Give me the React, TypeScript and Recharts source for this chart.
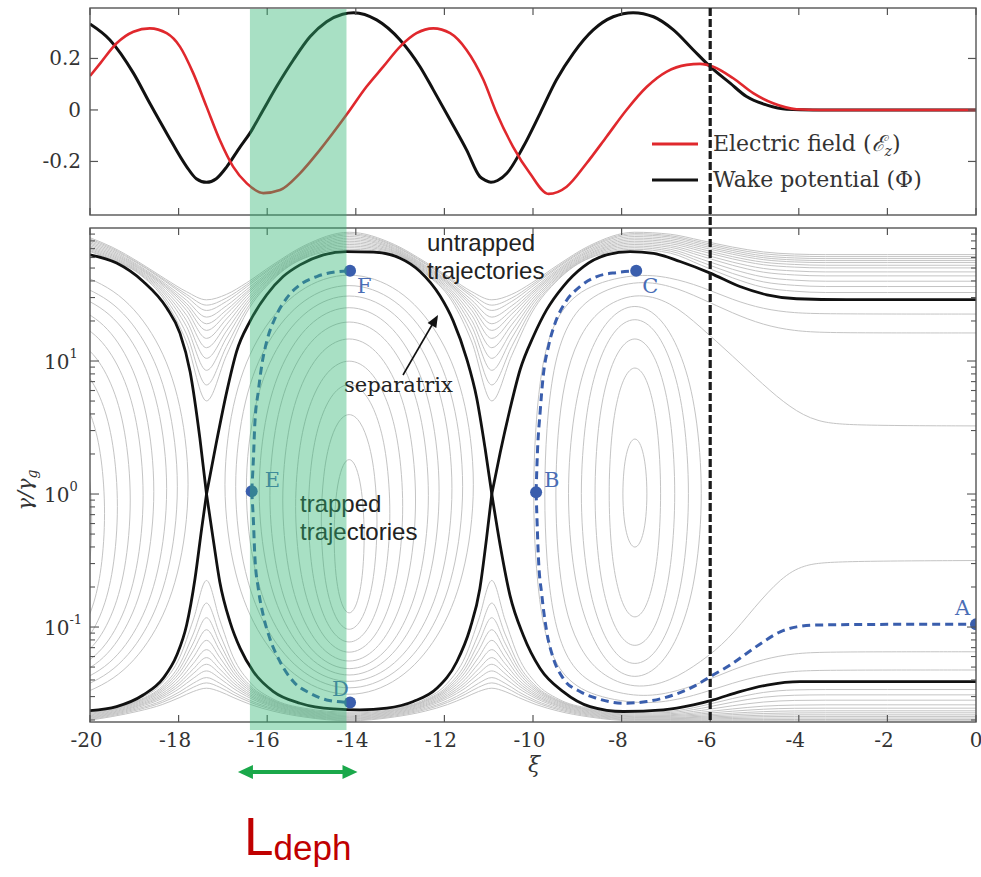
import React from 'react';
import { LineChart, ComposedChart, Line, Scatter, XAxis, YAxis } from 'recharts';

const W = 981;
const H = 877;
const PLOT_L = 90;
const PLOT_R = 976;
const TOP_Y0 = 8;
const TOP_Y1 = 215;
const BOT_Y0 = 228;
const BOT_Y1 = 722;

const SERIF = '"DejaVu Serif", "Liberation Serif", serif';
const SANS = '"Liberation Sans", Arial, sans-serif';
const RED = '#e0282d';
const BLUE = '#3a5ead';
const GRAY = '#c4c4c4';
const INK = '#333';

// ---------- top panel ----------
const xiTicks = [-20, -18, -16, -14, -12, -10, -8, -6, -4, -2, 0];
const fieldTicks = [-0.2, 0, 0.2];

const wakeXi = [-20, -19.55, -19.02, -18.65, -18.27, -17.82, -17.6, -17.37, -17.15, -16.91, -16.61, -16.39, -16.09, -15.79, -15.41, -15.03, -14.66, -14.3, -14.05, -13.53, -13.0, -12.55, -12.25, -11.87, -11.5, -11.2, -11.08, -10.95, -10.8, -10.59, -10.22, -9.84, -9.47, -9.09, -8.64, -8.19, -7.74, -7.28, -6.83, -6.38, -6.0, -5.55, -5.18, -4.72, -4.27, -3.68, -2, 0];
const wakePhi = [0.334, 0.272, 0.143, 0.026, -0.09, -0.22, -0.267, -0.281, -0.267, -0.22, -0.143, -0.09, 0.0, 0.09, 0.194, 0.285, 0.343, 0.372, 0.378, 0.35, 0.272, 0.168, 0.078, -0.039, -0.155, -0.259, -0.273, -0.281, -0.274, -0.246, -0.143, -0.013, 0.117, 0.22, 0.311, 0.362, 0.378, 0.362, 0.311, 0.233, 0.168, 0.104, 0.052, 0.019, 0.003, 0, 0, 0];

const fieldXi = [-20, -19.77, -19.4, -19.02, -18.65, -18.27, -17.97, -17.67, -17.37, -17.07, -16.77, -16.46, -16.09, -15.71, -15.26, -14.81, -14.21, -13.76, -13.38, -13.0, -12.63, -12.25, -11.87, -11.5, -11.12, -10.82, -10.45, -10.07, -9.65, -9.24, -8.79, -8.34, -7.89, -7.43, -6.98, -6.53, -6.23, -5.93, -5.48, -5.03, -4.58, -4.05, -3.5, 0];
const fieldEz = [0.132, 0.181, 0.259, 0.304, 0.317, 0.298, 0.246, 0.143, 0.013, -0.117, -0.22, -0.285, -0.323, -0.311, -0.246, -0.155, -0.019, 0.09, 0.168, 0.246, 0.298, 0.317, 0.298, 0.233, 0.117, -0.013, -0.143, -0.246, -0.326, -0.298, -0.207, -0.104, 0.0, 0.09, 0.149, 0.175, 0.179, 0.168, 0.123, 0.065, 0.026, 0.003, 0, 0];

// ---------- bottom panel: all values are log10(gamma / gamma_g) ----------
const gammaDecades = [-1, 0, 1];
const gammaMinor = [-2, -1, 0, 1]
  .flatMap((k) => [2, 3, 4, 5, 6, 7, 8, 9].map((m) => k + Math.log10(m)))
  .filter((v) => v > -1.714 && v < 2);

// untrapped orbits above the separatrix
const upperFlowXi = [-20, -19.5, -18.9, -18.3, -17.82, -17.37, -16.92, -16.47, -15.87, -15.17, -14.15, -13.13, -12.43, -11.83, -11.38, -10.93, -10.48, -10.03, -9.43, -8.73, -7.71, -6.9, -6.2, -5.5, -4.8, -4.1, -3.4, -2, 0];
const upperFlowLog = [
  [1.823, 1.760, 1.657, 1.451, 1.142, 0.70, 1.042, 1.361, 1.612, 1.772, 1.84, 1.802, 1.657, 1.451, 1.142, 0.70, 1.042, 1.361, 1.612, 1.772, 1.84, 1.811, 1.720, 1.626, 1.554, 1.525, 1.515, 1.515, 1.515],
  [1.830, 1.765, 1.663, 1.473, 1.202, 0.82, 1.109, 1.388, 1.620, 1.777, 1.852, 1.805, 1.663, 1.473, 1.202, 0.82, 1.109, 1.388, 1.620, 1.777, 1.852, 1.826, 1.744, 1.659, 1.595, 1.569, 1.56, 1.56, 1.56],
  [1.839, 1.773, 1.670, 1.495, 1.258, 0.93, 1.173, 1.416, 1.630, 1.785, 1.864, 1.812, 1.670, 1.495, 1.258, 0.93, 1.173, 1.416, 1.630, 1.785, 1.864, 1.840, 1.766, 1.690, 1.632, 1.608, 1.60, 1.60, 1.60],
  [1.848, 1.781, 1.678, 1.513, 1.303, 1.02, 1.225, 1.439, 1.640, 1.792, 1.876, 1.817, 1.678, 1.513, 1.303, 1.02, 1.225, 1.439, 1.640, 1.792, 1.876, 1.855, 1.789, 1.720, 1.668, 1.647, 1.64, 1.64, 1.64],
  [1.857, 1.790, 1.686, 1.530, 1.344, 1.10, 1.273, 1.462, 1.650, 1.801, 1.888, 1.824, 1.686, 1.530, 1.344, 1.10, 1.273, 1.462, 1.650, 1.801, 1.888, 1.868, 1.807, 1.744, 1.696, 1.677, 1.67, 1.67, 1.67],
  [1.867, 1.799, 1.695, 1.547, 1.380, 1.17, 1.316, 1.484, 1.661, 1.809, 1.90, 1.830, 1.695, 1.547, 1.380, 1.17, 1.316, 1.484, 1.661, 1.809, 1.90, 1.882, 1.826, 1.768, 1.724, 1.706, 1.70, 1.70, 1.70],
  [1.878, 1.808, 1.702, 1.560, 1.409, 1.23, 1.353, 1.503, 1.671, 1.819, 1.912, 1.838, 1.702, 1.560, 1.409, 1.23, 1.353, 1.503, 1.671, 1.819, 1.912, 1.895, 1.841, 1.785, 1.743, 1.726, 1.72, 1.72, 1.72],
  [1.888, 1.818, 1.710, 1.570, 1.432, 1.28, 1.383, 1.518, 1.681, 1.828, 1.924, 1.845, 1.710, 1.570, 1.432, 1.28, 1.383, 1.518, 1.681, 1.828, 1.924, 1.907, 1.856, 1.803, 1.762, 1.745, 1.74, 1.74, 1.74],
  [1.898, 1.828, 1.718, 1.582, 1.457, 1.33, 1.415, 1.536, 1.691, 1.838, 1.936, 1.853, 1.718, 1.582, 1.457, 1.33, 1.415, 1.536, 1.691, 1.838, 1.936, 1.920, 1.869, 1.817, 1.777, 1.760, 1.755, 1.755, 1.755],
  [1.909, 1.838, 1.729, 1.597, 1.483, 1.38, 1.448, 1.556, 1.704, 1.849, 1.948, 1.862, 1.729, 1.597, 1.483, 1.38, 1.448, 1.556, 1.704, 1.849, 1.948, 1.932, 1.882, 1.831, 1.791, 1.775, 1.77, 1.77, 1.77],
  [1.918, 1.847, 1.735, 1.606, 1.501, 1.42, 1.474, 1.571, 1.713, 1.857, 1.958, 1.868, 1.735, 1.606, 1.501, 1.42, 1.474, 1.571, 1.713, 1.857, 1.958, 1.942, 1.894, 1.844, 1.806, 1.790, 1.785, 1.785, 1.785],
  [1.927, 1.856, 1.744, 1.617, 1.521, 1.46, 1.501, 1.587, 1.724, 1.866, 1.968, 1.876, 1.744, 1.617, 1.521, 1.46, 1.501, 1.587, 1.724, 1.866, 1.968, 1.953, 1.906, 1.857, 1.820, 1.804, 1.80, 1.80, 1.80],
];

// untrapped orbits below the separatrix
const lowerFlowXi = [-20, -19.5, -18.9, -18.37, -17.97, -17.67, -17.37, -17.07, -16.77, -16.37, -15.87, -15.17, -14.15, -13.13, -12.43, -11.93, -11.53, -11.23, -10.93, -10.63, -10.33, -9.93, -9.43, -8.73, -7.71, -6.9, -6.2, -5.5, -4.8, -4.1, -3.4, -2, 0];
const lowerFlowLog = [
  [-1.638, -1.615, -1.541, -1.422, -1.224, -0.947, -0.65, -0.947, -1.224, -1.422, -1.541, -1.610, -1.64, -1.610, -1.541, -1.422, -1.224, -0.947, -0.65, -0.947, -1.224, -1.422, -1.541, -1.610, -1.64, -1.633, -1.594, -1.538, -1.492, -1.473, -1.47, -1.47, -1.47],
  [-1.643, -1.612, -1.550, -1.445, -1.278, -1.053, -0.82, -1.053, -1.278, -1.445, -1.550, -1.617, -1.648, -1.617, -1.550, -1.445, -1.278, -1.053, -0.82, -1.053, -1.278, -1.445, -1.550, -1.617, -1.648, -1.642, -1.611, -1.565, -1.528, -1.513, -1.51, -1.51, -1.51],
  [-1.650, -1.617, -1.556, -1.459, -1.311, -1.121, -0.93, -1.121, -1.311, -1.459, -1.556, -1.622, -1.655, -1.622, -1.556, -1.459, -1.311, -1.121, -0.93, -1.121, -1.311, -1.459, -1.556, -1.622, -1.655, -1.651, -1.627, -1.592, -1.564, -1.552, -1.55, -1.55, -1.55],
  [-1.657, -1.623, -1.562, -1.472, -1.340, -1.177, -1.02, -1.177, -1.340, -1.472, -1.562, -1.627, -1.662, -1.627, -1.562, -1.472, -1.340, -1.177, -1.02, -1.177, -1.340, -1.472, -1.562, -1.627, -1.662, -1.659, -1.641, -1.616, -1.595, -1.587, -1.585, -1.585, -1.585],
  [-1.663, -1.628, -1.570, -1.485, -1.368, -1.229, -1.10, -1.229, -1.368, -1.485, -1.570, -1.632, -1.668, -1.632, -1.570, -1.485, -1.368, -1.229, -1.10, -1.229, -1.368, -1.485, -1.570, -1.632, -1.668, -1.666, -1.652, -1.633, -1.618, -1.611, -1.61, -1.61, -1.61],
  [-1.669, -1.635, -1.578, -1.499, -1.394, -1.275, -1.17, -1.275, -1.394, -1.499, -1.578, -1.638, -1.674, -1.638, -1.578, -1.499, -1.394, -1.275, -1.17, -1.275, -1.394, -1.499, -1.578, -1.638, -1.674, -1.672, -1.662, -1.648, -1.636, -1.631, -1.63, -1.63, -1.63],
  [-1.675, -1.641, -1.586, -1.512, -1.417, -1.316, -1.23, -1.316, -1.417, -1.512, -1.586, -1.644, -1.68, -1.644, -1.586, -1.512, -1.417, -1.316, -1.23, -1.316, -1.417, -1.512, -1.586, -1.644, -1.68, -1.679, -1.671, -1.659, -1.650, -1.646, -1.645, -1.645, -1.645],
  [-1.680, -1.647, -1.593, -1.524, -1.438, -1.350, -1.28, -1.350, -1.438, -1.524, -1.593, -1.650, -1.685, -1.650, -1.593, -1.524, -1.438, -1.350, -1.28, -1.350, -1.438, -1.524, -1.593, -1.650, -1.685, -1.684, -1.678, -1.670, -1.663, -1.660, -1.66, -1.66, -1.66],
  [-1.685, -1.653, -1.602, -1.537, -1.460, -1.386, -1.33, -1.386, -1.460, -1.537, -1.602, -1.656, -1.69, -1.656, -1.602, -1.537, -1.460, -1.386, -1.33, -1.386, -1.460, -1.537, -1.602, -1.656, -1.69, -1.689, -1.685, -1.679, -1.674, -1.672, -1.672, -1.672, -1.672],
  [-1.690, -1.659, -1.612, -1.554, -1.486, -1.423, -1.38, -1.423, -1.486, -1.554, -1.612, -1.662, -1.695, -1.662, -1.612, -1.554, -1.486, -1.423, -1.38, -1.423, -1.486, -1.554, -1.612, -1.662, -1.695, -1.695, -1.692, -1.688, -1.685, -1.684, -1.684, -1.684, -1.684],
  [-1.695, -1.666, -1.621, -1.567, -1.506, -1.453, -1.42, -1.453, -1.506, -1.567, -1.621, -1.669, -1.70, -1.669, -1.621, -1.567, -1.506, -1.453, -1.42, -1.453, -1.506, -1.567, -1.621, -1.669, -1.70, -1.70, -1.699, -1.697, -1.696, -1.695, -1.695, -1.695, -1.695],
  [-1.700, -1.673, -1.632, -1.583, -1.529, -1.485, -1.46, -1.485, -1.529, -1.583, -1.632, -1.676, -1.705, -1.676, -1.632, -1.583, -1.529, -1.485, -1.46, -1.485, -1.529, -1.583, -1.632, -1.676, -1.705, -1.705, -1.705, -1.705, -1.705, -1.705, -1.705, -1.705, -1.705],
];

// trapped orbits of the bucket centred near xi = -14.15 (upper and lower arcs)
const midLoopXi = [
  [-14.50, -14.465, -14.395, -14.29, -14.15, -14.01, -13.905, -13.835, -13.80],
  [-14.80, -14.735, -14.605, -14.41, -14.15, -13.89, -13.695, -13.565, -13.50],
  [-15.10, -15.005, -14.815, -14.53, -14.15, -13.77, -13.485, -13.295, -13.20],
  [-15.40, -15.275, -15.025, -14.65, -14.15, -13.65, -13.275, -13.025, -12.90],
  [-15.70, -15.545, -15.235, -14.77, -14.15, -13.53, -13.065, -12.755, -12.60],
  [-16.00, -15.815, -15.445, -14.89, -14.15, -13.41, -12.855, -12.485, -12.30],
  [-16.25, -16.04, -15.62, -14.99, -14.15, -13.31, -12.68, -12.26, -12.05],
  [-16.55, -16.31, -15.83, -15.11, -14.15, -13.19, -12.47, -11.99, -11.75],
  [-16.80, -16.535, -16.005, -15.21, -14.15, -13.09, -12.295, -11.765, -11.50],
  [-17.05, -16.76, -16.18, -15.31, -14.15, -12.99, -12.12, -11.54, -11.25],
];
const midLoopTop = [
  [-0.32, -0.061, 0.105, 0.226, 0.275, 0.226, 0.105, -0.061, -0.32],
  [-0.21, 0.152, 0.383, 0.551, 0.62, 0.551, 0.383, 0.152, -0.21],
  [-0.145, 0.289, 0.565, 0.767, 0.85, 0.767, 0.565, 0.289, -0.145],
  [-0.095, 0.396, 0.708, 0.937, 1.03, 0.937, 0.708, 0.396, -0.095],
  [-0.045, 0.498, 0.844, 1.097, 1.20, 1.097, 0.844, 0.498, -0.045],
  [-0.01, 0.574, 0.947, 1.219, 1.33, 1.219, 0.947, 0.574, -0.01],
  [0.02, 0.639, 1.034, 1.322, 1.44, 1.322, 1.034, 0.639, 0.02],
  [0.04, 0.69, 1.104, 1.406, 1.53, 1.406, 1.104, 0.69, 0.04],
  [0.055, 0.733, 1.165, 1.481, 1.61, 1.481, 1.165, 0.733, 0.055],
  [0.07, 0.776, 1.227, 1.556, 1.69, 1.556, 1.227, 0.776, 0.07],
];
const midLoopBottom = [
  [-0.32, -0.577, -0.741, -0.861, -0.91, -0.861, -0.741, -0.577, -0.32],
  [-0.21, -0.572, -0.803, -0.971, -1.04, -0.971, -0.803, -0.572, -0.21],
  [-0.145, -0.579, -0.855, -1.057, -1.14, -1.057, -0.855, -0.579, -0.145],
  [-0.095, -0.586, -0.898, -1.127, -1.22, -1.127, -0.898, -0.586, -0.095],
  [-0.045, -0.588, -0.934, -1.187, -1.29, -1.187, -0.934, -0.588, -0.045],
  [-0.01, -0.594, -0.967, -1.239, -1.35, -1.239, -0.967, -0.594, -0.01],
  [0.02, -0.599, -0.994, -1.282, -1.40, -1.282, -0.994, -0.599, 0.02],
  [0.04, -0.61, -1.024, -1.326, -1.45, -1.326, -1.024, -0.61, 0.04],
  [0.055, -0.623, -1.055, -1.371, -1.50, -1.371, -1.055, -0.623, 0.055],
  [0.07, -0.636, -1.087, -1.416, -1.55, -1.416, -1.087, -0.636, 0.07],
];

// right halves of the trapped orbits of the bucket cut by the left edge
const leftLoopXi = [
  [-20.59, -20.33, -20.135, -20.005, -19.94],
  [-20.59, -20.21, -19.925, -19.735, -19.64],
  [-20.59, -20.09, -19.715, -19.465, -19.34],
  [-20.59, -19.97, -19.505, -19.195, -19.04],
  [-20.59, -19.85, -19.295, -18.925, -18.74],
  [-20.59, -19.75, -19.12, -18.70, -18.49],
  [-20.59, -19.63, -18.91, -18.43, -18.19],
  [-20.59, -19.53, -18.735, -18.205, -17.94],
  [-20.59, -19.43, -18.56, -17.98, -17.69],
];
const leftLoopTop = [
  [0.62, 0.551, 0.383, 0.152, -0.21],
  [0.85, 0.767, 0.565, 0.289, -0.145],
  [1.03, 0.937, 0.708, 0.396, -0.095],
  [1.20, 1.097, 0.844, 0.498, -0.045],
  [1.33, 1.219, 0.947, 0.574, -0.01],
  [1.44, 1.322, 1.034, 0.639, 0.02],
  [1.53, 1.406, 1.104, 0.69, 0.04],
  [1.61, 1.481, 1.165, 0.733, 0.055],
  [1.69, 1.556, 1.227, 0.776, 0.07],
];
const leftLoopBottom = [
  [-1.04, -0.971, -0.803, -0.572, -0.21],
  [-1.14, -1.057, -0.855, -0.579, -0.145],
  [-1.22, -1.127, -0.898, -0.586, -0.095],
  [-1.29, -1.187, -0.934, -0.588, -0.045],
  [-1.35, -1.239, -0.967, -0.594, -0.01],
  [-1.40, -1.282, -0.994, -0.599, 0.02],
  [-1.45, -1.326, -1.024, -0.61, 0.04],
  [-1.50, -1.371, -1.055, -0.623, 0.055],
  [-1.55, -1.416, -1.087, -0.636, 0.07],
];

// closed orbits of the last bucket (centre near xi = -7.7)
const lastLoopXi = [
  [-7.98, -7.952, -7.896, -7.812, -7.70, -7.588, -7.504, -7.448, -7.42],
  [-8.30, -8.24, -8.12, -7.94, -7.70, -7.46, -7.28, -7.16, -7.10],
  [-8.63, -8.537, -8.351, -8.072, -7.70, -7.328, -7.049, -6.863, -6.77],
  [-8.95, -8.825, -8.575, -8.20, -7.70, -7.20, -6.825, -6.575, -6.45],
  [-9.25, -9.095, -8.785, -8.32, -7.70, -7.08, -6.615, -6.305, -6.15],
];
const lastLoopTop = [
  [0, 0.185, 0.303, 0.390, 0.425, 0.390, 0.303, 0.185, 0],
  [0, 0.425, 0.695, 0.893, 0.974, 0.893, 0.695, 0.425, 0],
  [0, 0.523, 0.856, 1.099, 1.199, 1.099, 0.856, 0.523, 0],
  [0, 0.588, 0.962, 1.236, 1.348, 1.236, 0.962, 0.588, 0],
  [0, 0.632, 1.035, 1.330, 1.45, 1.330, 1.035, 0.632, 0],
];
const lastLoopBottom = [
  [0, -0.179, -0.293, -0.376, -0.41, -0.376, -0.293, -0.179, 0],
  [0, -0.414, -0.678, -0.871, -0.95, -0.871, -0.678, -0.414, 0],
  [0, -0.510, -0.835, -1.073, -1.17, -1.073, -0.835, -0.510, 0],
  [0, -0.571, -0.935, -1.201, -1.31, -1.201, -0.935, -0.571, 0],
  [0, -0.615, -1.007, -1.293, -1.41, -1.293, -1.007, -0.615, 0],
];

// orbits of the last bucket that leave through the right edge
const openOrbitsUpper = [
  [[-9.5, 0], [-9.45, 0.45], [-9.3, 0.85], [-9.0, 1.17], [-8.5, 1.40], [-7.7, 1.52], [-6.9, 1.45], [-6.2, 1.25], [-5.5, 1.04], [-4.8, 0.82], [-4.2, 0.65], [-3.6, 0.54], [-2.8, 0.515], [0, 0.512]],
  [[-9.75, 0], [-9.7, 0.5], [-9.55, 0.95], [-9.25, 1.28], [-8.7, 1.50], [-7.7, 1.61], [-6.9, 1.57], [-6.2, 1.47], [-5.5, 1.36], [-4.8, 1.27], [-4.1, 1.225], [-3.4, 1.213], [-2, 1.211], [0, 1.211]],
  [[-10.0, 0], [-9.95, 0.5], [-9.8, 1.0], [-9.5, 1.33], [-8.9, 1.56], [-7.7, 1.66], [-6.9, 1.63], [-6.2, 1.56], [-5.5, 1.46], [-4.8, 1.39], [-4.1, 1.36], [-3.4, 1.355], [-2, 1.353], [0, 1.353]],
];
const openOrbitsLower = [
  [[-9.5, 0], [-9.45, -0.45], [-9.3, -0.84], [-9.0, -1.14], [-8.5, -1.36], [-7.7, -1.47], [-6.9, -1.41], [-6.2, -1.26], [-5.6, -1.1], [-5.0, -0.85], [-4.4, -0.63], [-3.9, -0.53], [-3.2, -0.505], [0, -0.50]],
  [[-9.75, 0], [-9.7, -0.5], [-9.55, -0.93], [-9.25, -1.25], [-8.7, -1.44], [-7.7, -1.53], [-6.9, -1.50], [-6.2, -1.42], [-5.5, -1.32], [-4.8, -1.24], [-4.1, -1.197], [-3.4, -1.188], [-2, -1.186], [0, -1.186]],
  [[-10.0, 0], [-9.95, -0.5], [-9.8, -0.98], [-9.5, -1.3], [-8.9, -1.5], [-7.7, -1.58], [-6.9, -1.56], [-6.2, -1.50], [-5.5, -1.42], [-4.8, -1.36], [-4.1, -1.33], [-3.4, -1.325], [-2, -1.323], [0, -1.323]],
];

// separatrix, split at the X-points
const separatrixUpper = [
  [[-20, 1.798], [-19.4, 1.736], [-18.8, 1.598], [-18.27, 1.40], [-17.97, 1.21], [-17.74, 0.92], [-17.52, 0.42], [-17.37, 0]],
  [[-17.37, 0], [-17.14, 0.40], [-16.91, 0.774], [-16.69, 1.073], [-16.39, 1.298], [-16.01, 1.498], [-15.64, 1.635], [-15.26, 1.723], [-14.73, 1.798], [-14.21, 1.822], [-13.6, 1.818], [-13.0, 1.773], [-12.55, 1.673], [-12.1, 1.49], [-11.8, 1.30], [-11.5, 1.02], [-11.27, 0.72], [-11.08, 0.34], [-10.93, 0]],
  [[-10.93, 0], [-10.74, 0.312], [-10.52, 0.637], [-10.29, 0.936], [-9.99, 1.186], [-9.69, 1.386], [-9.32, 1.56], [-8.86, 1.71], [-8.34, 1.798], [-7.81, 1.822], [-7.28, 1.81], [-6.68, 1.748], [-6.0, 1.661], [-5.33, 1.56], [-4.72, 1.498], [-4.05, 1.468], [-2.92, 1.461], [0, 1.461]],
];
const separatrixLower = [
  [[-20, -1.628], [-19.4, -1.598], [-18.8, -1.511], [-18.35, -1.386], [-18.04, -1.211], [-17.82, -0.987], [-17.63, -0.637], [-17.48, -0.262], [-17.37, 0]],
  [[-17.37, 0], [-17.22, -0.337], [-17.07, -0.661], [-16.84, -0.961], [-16.61, -1.161], [-16.31, -1.336], [-15.86, -1.485], [-15.26, -1.573], [-14.51, -1.616], [-13.91, -1.623], [-13.3, -1.61], [-12.7, -1.56], [-12.17, -1.461], [-11.72, -1.261], [-11.42, -1.011], [-11.2, -0.712], [-11.05, -0.337], [-10.93, 0]],
  [[-10.93, 0], [-10.74, -0.387], [-10.52, -0.762], [-10.22, -1.061], [-9.84, -1.311], [-9.32, -1.485], [-8.71, -1.598], [-7.96, -1.635], [-7.06, -1.623], [-6.38, -1.586], [-5.93, -1.548], [-5.33, -1.485], [-4.72, -1.436], [-3.97, -1.41], [0, -1.41]],
];

// electron trajectories (blue dashed)
const trajEtoF = [[-16.35, 0.02], [-16.31, 0.275], [-16.28, 0.524], [-16.2, 0.774], [-16.12, 0.974], [-16.01, 1.148], [-15.82, 1.324], [-15.56, 1.473], [-15.26, 1.573], [-14.88, 1.635], [-14.51, 1.668], [-14.13, 1.678]];
const trajEtoD = [[-16.35, 0.02], [-16.31, -0.212], [-16.28, -0.462], [-16.2, -0.712], [-16.09, -0.911], [-15.94, -1.086], [-15.71, -1.261], [-15.41, -1.41], [-15.03, -1.498], [-14.66, -1.548], [-14.13, -1.568]];
const trajBtoA = [[-9.93, 0.013], [-9.915, -0.137], [-9.88, -0.462], [-9.80, -0.762], [-9.69, -1.036], [-9.54, -1.236], [-9.32, -1.386], [-8.94, -1.485], [-8.56, -1.536], [-7.96, -1.573], [-7.43, -1.56], [-6.83, -1.511], [-6.38, -1.448], [-6.0, -1.373], [-5.55, -1.286], [-5.18, -1.199], [-4.80, -1.111], [-4.42, -1.036], [-4.05, -0.999], [-3.6, -0.985], [-2, -0.98], [0, -0.98]];
const trajBtoC = [[-9.93, 0.013], [-9.90, 0.312], [-9.84, 0.612], [-9.77, 0.886], [-9.65, 1.111], [-9.50, 1.286], [-9.28, 1.436], [-8.94, 1.56], [-8.56, 1.635], [-8.11, 1.665], [-7.67, 1.678]];

const pointNames = ['A', 'B', 'C', 'D', 'E', 'F'];
const pointXi = [0, -9.93, -7.67, -14.13, -16.35, -14.13];
const pointLog = [-0.98, 0.013, 1.678, -1.568, 0.02, 1.678];

const dephasingXi = [-16.39, -14.21];
const driverEndXi = -6;

// label offsets (px) for the lettered points
const pointLabelOffset: Record<string, [number, number]> = {
  A: [-21, -9], B: [8, -5], C: [6, 22], D: [-18, -7], E: [13, -4], F: [7, 22],
};

type Pt = { x: number; y: number };
const zip = (xs: number[], ys: number[]): Pt[] => xs.map((x, i) => ({ x, y: ys[i] }));
const fromPairs = (p: number[][]): Pt[] => p.map(([x, y]) => ({ x, y }));
const xPx = (xi: number) => PLOT_L + ((xi + 20) / 20) * (PLOT_R - PLOT_L);

// join the two arcs of an orbit into one path
const closedLoop = (xs: number[], top: number[], bottom: number[]) => [
  ...zip(xs, top),
  ...zip(xs, bottom).slice(1, -1).reverse(),
];
const halfLoop = (xs: number[], top: number[], bottom: number[]) => [
  ...zip(xs, top),
  ...zip(xs, bottom).slice(0, -1).reverse(),
];
const openOrbit = (upper: number[][], lower: number[][]) => [
  ...fromPairs(upper).reverse(),
  ...fromPairs(lower).slice(1),
];

const grayLine = (key: string, data: Pt[], type: any = 'monotone') => (
  <Line key={key} data={data} dataKey="y" type={type} stroke={GRAY} strokeWidth={1}
    dot={false} activeDot={false} isAnimationActive={false} />
);

const fmtField = (v: number) => (v === 0 ? '0' : v.toFixed(1));

function makeXTick(y0: number, y1: number, withLabel: boolean) {
  return (props: any) => {
    const { x, payload } = props;
    const v = payload.value as number;
    return (
      <g>
        <line x1={x} x2={x} y1={y1} y2={y1 - 7} stroke="#555" strokeWidth={1.2} />
        <line x1={x} x2={x} y1={y0} y2={y0 + 7} stroke="#555" strokeWidth={1.2} />
        {withLabel && (
          <text x={x} y={y1 + 25} dx={v < 0 ? -3.5 : 0} textAnchor="middle" fontFamily={SERIF} fontSize={20} fill={INK}>
            {v}
          </text>
        )}
      </g>
    );
  };
}

const FieldTick = (props: any) => {
  const { y, payload } = props;
  return (
    <g>
      <line x1={PLOT_L} x2={PLOT_L + 8} y1={y} y2={y} stroke="#555" strokeWidth={1.2} />
      <line x1={PLOT_R} x2={PLOT_R - 8} y1={y} y2={y} stroke="#555" strokeWidth={1.2} />
      <text x={81} y={y + 7} textAnchor="end" fontFamily={SERIF} fontSize={20} fill={INK}>
        {fmtField(payload.value)}
      </text>
    </g>
  );
};

const GammaTick = (props: any) => {
  const { y, payload } = props;
  const v = payload.value as number;
  const major = Number.isInteger(v);
  const len = major ? 9 : 5;
  return (
    <g>
      <line x1={PLOT_L} x2={PLOT_L + len} y1={y} y2={y} stroke="#555" strokeWidth={1.1} />
      <line x1={PLOT_R} x2={PLOT_R - len} y1={y} y2={y} stroke="#555" strokeWidth={1.1} />
      {major && (
        <text x={44} y={y + 8} fontFamily={SERIF} fontSize={20} fill={INK}>
          10
          <tspan fontSize={13} dy={-11}>{v}</tspan>
        </text>
      )}
    </g>
  );
};

const PointShape = (props: any) => {
  const { cx, cy, payload } = props;
  const [dx, dy] = pointLabelOffset[payload.name];
  return (
    <g>
      <circle cx={cx} cy={cy} r={6} fill={BLUE} />
      <text x={cx + dx} y={cy + dy} fontFamily={SERIF} fontSize={21} fill="#4a6db5">{payload.name}</text>
    </g>
  );
};

function TopPanel() {
  return (
    <LineChart width={W} height={232} margin={{ top: TOP_Y0, right: W - PLOT_R, bottom: 0, left: 30 }}>
      <XAxis type="number" dataKey="x" domain={[-20, 0]} ticks={xiTicks} interval={0} allowDataOverflow
        axisLine={false} tickLine={false} height={17} tick={makeXTick(TOP_Y0, TOP_Y1, false)} />
      <YAxis type="number" dataKey="y" domain={[-0.408, 0.396]} ticks={fieldTicks} interval={0} allowDataOverflow
        axisLine={false} tickLine={false} width={60} tick={FieldTick} />
      <Line data={zip(wakeXi, wakePhi)} dataKey="y" type="monotone" stroke="#111" strokeWidth={3}
        dot={false} activeDot={false} isAnimationActive={false} />
      <Line data={zip(fieldXi, fieldEz)} dataKey="y" type="monotone" stroke={RED} strokeWidth={2.6}
        dot={false} activeDot={false} isAnimationActive={false} />
    </LineChart>
  );
}

function BottomPanel() {
  const points = pointNames.map((name, i) => ({ name, x: pointXi[i], y: pointLog[i] }));
  return (
    <ComposedChart width={W} height={H} margin={{ top: BOT_Y0, right: W - PLOT_R, bottom: H - BOT_Y1 - 40, left: 30 }}>
      <XAxis type="number" dataKey="x" domain={[-20, 0]} ticks={xiTicks} interval={0} allowDataOverflow
        axisLine={false} tickLine={false} height={40} tick={makeXTick(BOT_Y0, BOT_Y1, true)} />
      <YAxis type="number" dataKey="y" domain={[-1.714, 2]} ticks={[...gammaDecades, ...gammaMinor]} interval={0}
        allowDataOverflow axisLine={false} tickLine={false} width={60} tick={GammaTick} />

      {upperFlowLog.map((ys, i) => grayLine(`u${i}`, zip(upperFlowXi, ys)))}
      {lowerFlowLog.map((ys, i) => grayLine(`l${i}`, zip(lowerFlowXi, ys)))}
      {midLoopXi.map((xs, i) => grayLine(`m${i}`, closedLoop(xs, midLoopTop[i], midLoopBottom[i]), 'basisClosed'))}
      {leftLoopXi.map((xs, i) => grayLine(`h${i}`, halfLoop(xs, leftLoopTop[i], leftLoopBottom[i]), 'basis'))}
      {lastLoopXi.map((xs, i) => grayLine(`k${i}`, closedLoop(xs, lastLoopTop[i], lastLoopBottom[i]), 'basisClosed'))}
      {openOrbitsUpper.map((p, i) => grayLine(`o${i}`, openOrbit(p, openOrbitsLower[i]), 'basis'))}

      {[...separatrixUpper, ...separatrixLower].map((p, i) => (
        <Line key={`s${i}`} data={fromPairs(p)} dataKey="y" type="monotone" stroke="#111" strokeWidth={2.8}
          dot={false} activeDot={false} isAnimationActive={false} />
      ))}

      {[trajEtoF, trajEtoD, trajBtoA, trajBtoC].map((p, i) => (
        <Line key={`t${i}`} data={fromPairs(p)} dataKey="y" type="monotone" stroke={BLUE} strokeWidth={3}
          strokeDasharray="8 5" dot={false} activeDot={false} isAnimationActive={false} />
      ))}

      <Scatter data={points} dataKey="y" shape={PointShape} isAnimationActive={false} />
    </ComposedChart>
  );
}

function Overlay() {
  const bx0 = xPx(dephasingXi[0]);
  const bx1 = xPx(dephasingXi[1]);
  const xd = xPx(driverEndXi);
  const ay = 772;
  const al = bx0 - 12;
  const ar = bx1 + 11;
  return (
    <svg width={W} height={H} style={{ position: 'absolute', left: 0, top: 0, pointerEvents: 'none' }}>
      <rect x={PLOT_L} y={TOP_Y0} width={PLOT_R - PLOT_L} height={TOP_Y1 - TOP_Y0} fill="none" stroke="#555" strokeWidth={1.4} />
      <rect x={PLOT_L} y={BOT_Y0} width={PLOT_R - PLOT_L} height={BOT_Y1 - BOT_Y0} fill="none" stroke="#555" strokeWidth={1.4} />

      <line x1={xd} x2={xd} y1={TOP_Y0} y2={BOT_Y1} stroke="#1b1b1b" strokeWidth={3.2} strokeDasharray="8 3" />

      {/* legend */}
      <line x1={652} x2={698} y1={144} y2={144} stroke={RED} strokeWidth={3} />
      <text x={713} y={151} fontFamily={SERIF} fontSize={22} fill={INK}>
        Electric field (<tspan fontStyle="italic">ℰ</tspan>
        <tspan fontSize={14} dy={5} fontStyle="italic">z</tspan>
        <tspan dy={-5}>)</tspan>
      </text>
      <line x1={652} x2={698} y1={180} y2={180} stroke="#111" strokeWidth={3} />
      <text x={713} y={187} fontFamily={SERIF} fontSize={22} fill={INK}>Wake potential (Φ)</text>

      {/* annotations */}
      <text x={427} y={251} fontFamily={SANS} fontSize={24} fill="#222">untrapped</text>
      <text x={427} y={279} fontFamily={SANS} fontSize={24} fill="#222">trajectories</text>
      <text x={300} y={512} fontFamily={SANS} fontSize={24} fill="#222">trapped</text>
      <text x={300} y={540} fontFamily={SANS} fontSize={24} fill="#222">trajectories</text>
      <text x={344} y={392} fontFamily={SERIF} fontSize={21} fill="#222">separatrix</text>
      <line x1={403} y1={375} x2={432} y2={325} stroke="#111" strokeWidth={1.6} />
      <polygon points="438,315 436.3,327.9 427.6,322.9" fill="#111" />

      {/* dephasing band */}
      <rect x={bx0} y={TOP_Y0 + 1} width={bx1 - bx0} height={730 - TOP_Y0 - 1} fill="#2fb673" fillOpacity={0.42} />

      {/* L_deph */}
      <line x1={al + 12} x2={ar - 12} y1={ay} y2={ay} stroke="#1aa84a" strokeWidth={4} />
      <polygon points={`${al},${ay} ${al + 15},${ay - 7} ${al + 15},${ay + 7}`} fill="#1aa84a" />
      <polygon points={`${ar},${ay} ${ar - 15},${ay - 7} ${ar - 15},${ay + 7}`} fill="#1aa84a" />
      <text x={244} y={855} fontFamily={SANS} fontSize={53} fill="#c00000">
        L<tspan fontSize={35} dy={5}>deph</tspan>
      </text>

      {/* axis titles */}
      <text x={534} y={772} textAnchor="middle" fontFamily={SERIF} fontStyle="italic" fontSize={22} fill={INK}>ξ</text>
      <text transform="translate(32,490) rotate(-90)" textAnchor="middle" fontFamily={SERIF} fontStyle="italic" fontSize={21} fill={INK}>
        γ/γ<tspan fontSize={14} dy={5}>g</tspan>
      </text>
    </svg>
  );
}

export default function App() {
  return (
    <div style={{ position: 'absolute', left: 0, top: 0, width: W, height: H, background: '#fff' }}>
      <div style={{ position: 'absolute', left: 0, top: 0 }}>
        <TopPanel />
      </div>
      <div style={{ position: 'absolute', left: 0, top: 0 }}>
        <BottomPanel />
      </div>
      <Overlay />
    </div>
  );
}
